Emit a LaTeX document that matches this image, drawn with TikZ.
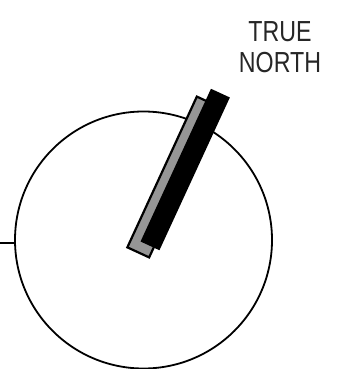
\documentclass[tikz,border=0pt]{standalone}
\usepackage{fontspec}
\setmainfont{Liberation Sans}
\definecolor{needlegray}{RGB}{150,150,150}
\tikzset{
  dial/.style={circle, draw=black, line width=1.8pt, minimum size=257pt, inner sep=0pt},
  bar/.style={rectangle, draw=black, line width=2.2pt, inner sep=0pt, rotate=65.25},
  label/.style={font=\fontsize{29}{30.5}\selectfont, align=center, text=black!85, xscale=0.8, inner sep=0pt}
}
\begin{document}
\begin{tikzpicture}[x=1pt,y=-1pt]
\useasboundingbox (0,0) rectangle (348,369);
\node[dial] (c) at (143.5,240) {};
\coordinate (L) at (0,243);
\draw[line width=2.8pt] (L) -- (L -| c.west);
\node[bar, fill=needlegray, minimum width=166pt, minimum height=24pt] (g) at (173,177) {};
\node[bar, fill=black, minimum width=166pt, minimum height=18.6pt] (b) at (185.2,169.5) {};
\node[label] (t) at (280,47) {TRUE\\NORTH};
\end{tikzpicture}
\end{document}
